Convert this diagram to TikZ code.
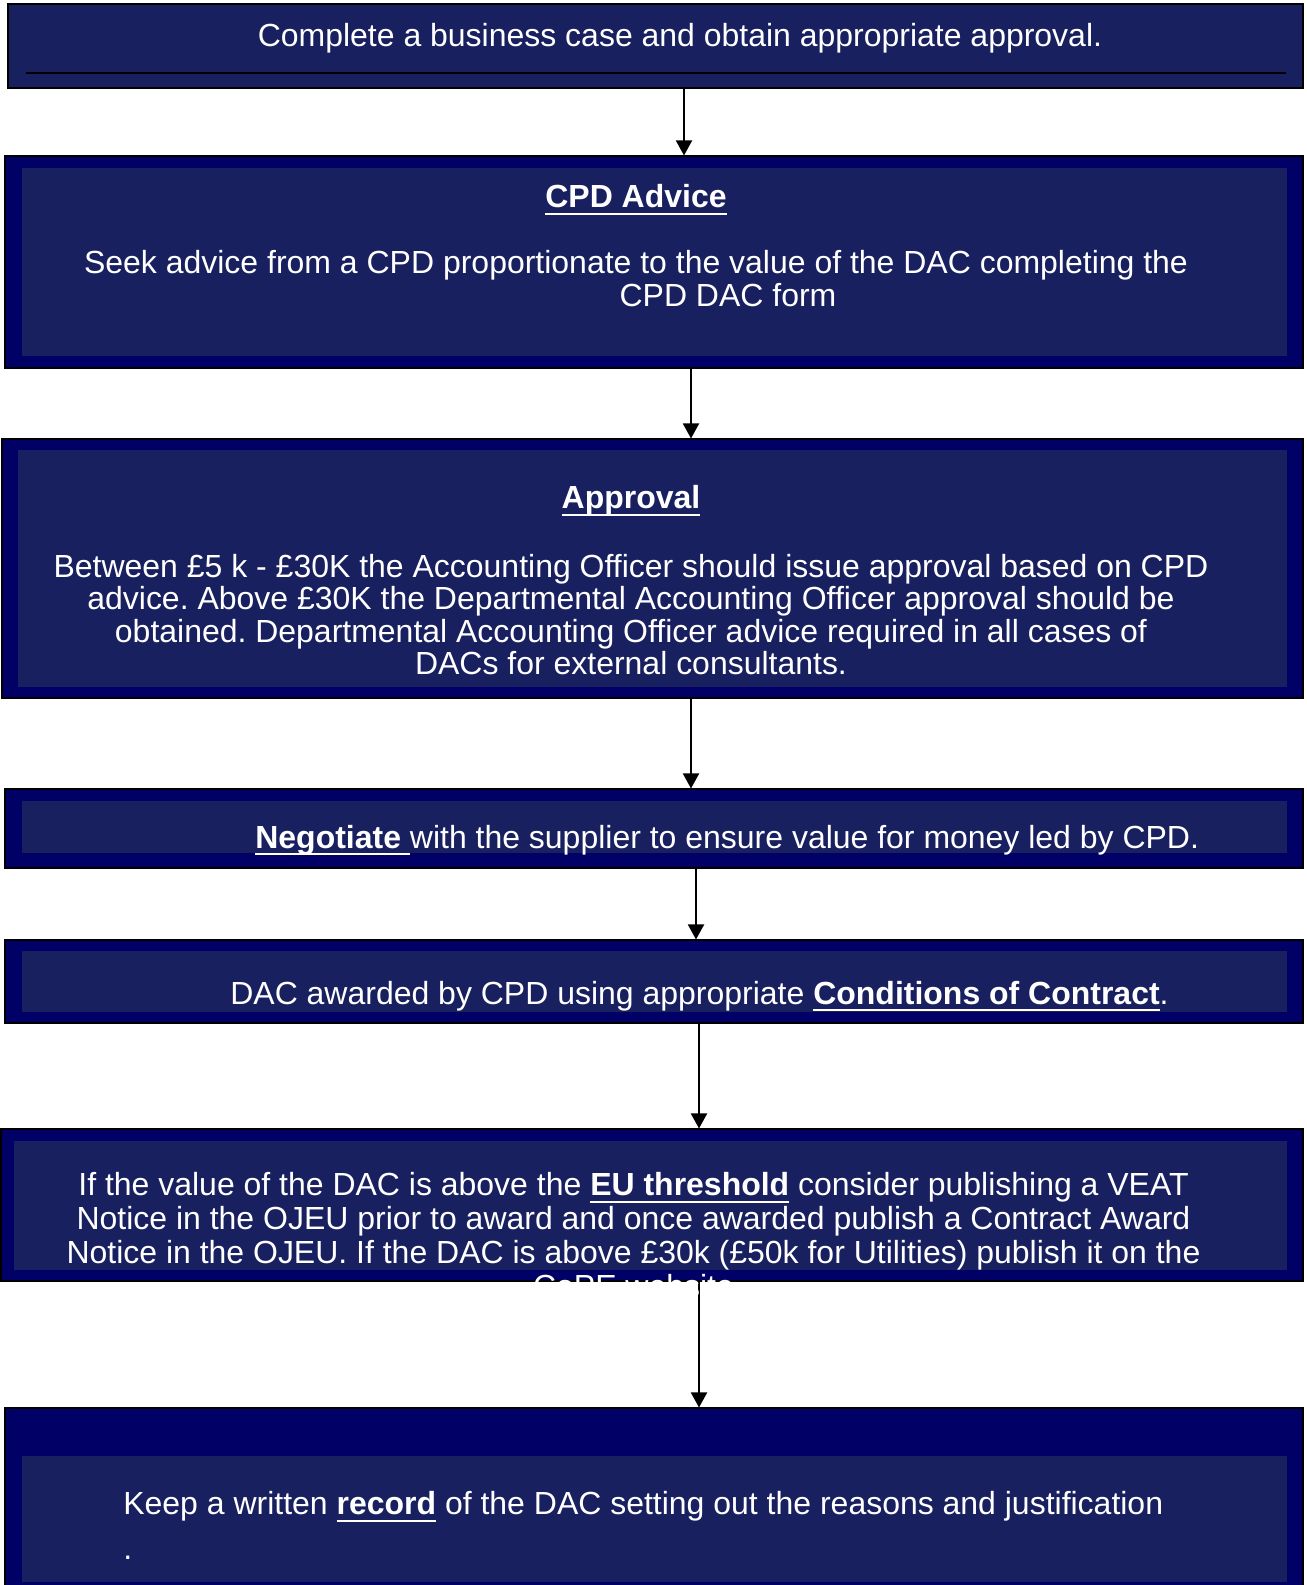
\documentclass[tikz,border=0pt]{standalone}
\usepackage{fontspec}
\setmainfont{Liberation Sans}
\usetikzlibrary{arrows.meta,fit}
\definecolor{navyout}{RGB}{0,0,102}
\definecolor{navyin}{RGB}{25,32,96}
\newsavebox\ulbox
\newcommand{\undl}[1]{\sbox\ulbox{#1}\rlap{\rule[-4.2pt]{\wd\ulbox}{1.2pt}}\usebox\ulbox}
\frenchspacing

\begin{document}
\begin{tikzpicture}[x=0.02cm, y=-0.02cm,
    outerbox/.style={draw=black, line width=0.6pt, fill=navyout, inner sep=0pt},
    innerbox/.style={fill=navyin, inner sep=0pt},
    txt/.style={text=white, inner sep=0pt, align=center, font=\fontsize{18.2}{18.7}\selectfont},
    flow/.style={line width=1.1pt, -{Triangle[length=0.3cm,width=0.32cm]}}]
    \useasboundingbox (0,0) rectangle (1307,1585);
    % boxes
    \node[outerbox, fill=navyin, fit={(8,4) (1303,88)}] (case) {};
    \draw[line width=0.6pt] (26,73) -- (1286,73);
    \node[outerbox, fit={(5,156) (1303,368)}] (advice) {};
    \node[innerbox, fit={(22,168) (1287,356)}] (advicein) {};
    \node[outerbox, fit={(2,439) (1303,698)}] (approval) {};
    \node[innerbox, fit={(18,450) (1287,687)}] (approvalin) {};
    \node[outerbox, fit={(5,789) (1303,868)}] (negotiate) {};
    \node[innerbox, fit={(22,801) (1287,853)}] (negotiatein) {};
    \node[outerbox, fit={(5,940) (1303,1023)}] (award) {};
    \node[innerbox, fit={(22,951) (1287,1012)}] (awardin) {};
    \node[outerbox, fit={(1,1129) (1303,1281)}] (publish) {};
    \node[innerbox, fit={(14,1141) (1287,1270)}] (publishin) {};
    \node[outerbox, fit={(5,1408) (1303,1592)}] (record) {};
    \node[innerbox, fit={(22,1456) (1287,1582)}] (recordin) {};

    % connectors
    \draw[flow] (case.south -| 684,0) -- (advice.north -| 684,0);
    \draw[flow] (advice.south -| 691,0) -- (approval.north -| 691,0);
    \draw[flow] (approval.south -| 691,0) -- (negotiate.north -| 691,0);
    \draw[flow] (negotiate.south -| 696,0) -- (award.north -| 696,0);
    \draw[flow] (award.south -| 699,0) -- (publish.north -| 699,0);
    \draw[flow] (publish.south -| 699,0) -- (record.north -| 699,0);

    % texts
    \node[txt, anchor=base] (casetxt) at (680,47) {Complete a business case and obtain appropriate approval.};
    \node[txt, anchor=base] (advicetxt) at (636,306) {\undl{\textbf{CPD Advice}}\\[18.7pt]
        Seek advice from a CPD proportionate to the value of the DAC completing the\\
        \hspace*{3.68cm}CPD DAC form};
    \node[txt, anchor=base, font=\fontsize{18.2}{18.4}\selectfont] (approvaltxt) at (631,674.5) {\undl{\textbf{Approval}}\\[21pt]
        Between £5 k - £30K the Accounting Officer should issue approval based on CPD\\
        advice. Above £30K the Departmental Accounting Officer approval should be\\
        obtained. Departmental Accounting Officer advice required in all cases of\\
        DACs for external consultants.};
    \node[txt, anchor=base west] (negotiatetxt) at (255,848) {\undl{\textbf{Negotiate }}with the supplier to ensure value for money led by CPD.};
    \node[txt, anchor=base west] (awardtxt) at (230,1004) {DAC awarded by CPD using appropriate \undl{\textbf{Conditions of Contract}}.};
    \node[txt, anchor=base, font=\fontsize{18.2}{19.3}\selectfont] (publishtxt) at (633.5,1297) {If the value of the DAC is above the \undl{\textbf{EU threshold}} consider publishing a VEAT\\
        Notice in the OJEU prior to award and once awarded publish a Contract Award\\
        Notice in the OJEU. If the DAC is above £30k (£50k for Utilities) publish it on the\\
        CoPE website};
    \node[txt, anchor=base west, align=left] (recordtxt) at (123,1559) {Keep a written \undl{\textbf{record}} of the DAC setting out the reasons and justification\\[6.5pt]
        .};
\end{tikzpicture}
\end{document}
